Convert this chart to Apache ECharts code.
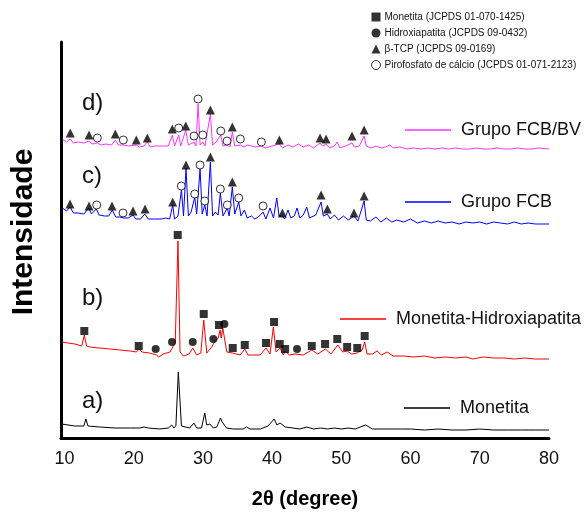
<!DOCTYPE html>
<html>
<head>
<meta charset="utf-8">
<script src="https://cdn.jsdelivr.net/npm/echarts@6/dist/echarts.min.js"></script>
<style>
  html, body { margin: 0; padding: 0; background: #fff; }
  #chart { width: 587px; height: 520px; }
</style>
</head>
<body>
<div id="chart"></div>
<script>
// 2θ (degree) vs stacked intensity (a.u.)
const xTicks = [10, 20, 30, 40, 50, 60, 70, 80];

const traceMonetita = [
  [9.6,14],[11.5,12],[12.8,12],[13.1,19],[13.4,12],[15.1,11],[17.3,10],[19.5,10],[20.9,10],[21.5,11],
  [22.1,10],[23.8,9],[25.0,10],[25.5,13],[25.8,10],[26.1,12],[26.45,66],[26.9,12],[27.1,10],[28.1,10],
  [28.7,15],[29.1,10],[29.8,10],[30.27,25],[30.55,13],[31.0,14],[31.5,10],[32.0,11],[32.55,20],[32.7,17],
  [32.9,19],[33.4,10],[34.4,9],[35.8,9],[36.3,11],[36.8,9],[38.3,9],[39.4,12],[40.3,19],[40.7,13],
  [41.15,15],[41.9,11],[43,10],[44,9],[45,11],[46,9],[47,10],[48,9],[49,10],[50,9],
  [51,10],[52,9],[53.5,13],[54.5,9],[56,9],[58.5,9],[60,9],[62,8],[64,9],[66,8],
  [68,8],[70,9],[72,8],[74,8],[76,8],[78,8],[80,8]
];

const traceMonHap = [
  [9.7,96],[10.5,95],[11.5,94],[12.5,92],[12.87,103],[13.2,92],[13.7,91],[15,90],[16.6,89],[18,88],
  [19.5,87],[20.4,86],[20.8,89],[21.2,86],[22.3,85],[23.3,83],[23.6,81],[24.3,84],[25.25,86],[25.64,91],
  [26.0,95],[26.4,197],[26.7,86],[27.17,82],[28.0,84],[28.53,90],[29.1,83],[29.7,85],[30.12,118],[30.56,85],
  [31.28,91],[31.6,95],[32.2,100],[32.48,108],[32.65,100],[32.87,110],[33.45,86],[34.31,85],[35.37,83],[36.05,89],
  [36.52,83],[38.26,83],[39.12,90],[39.7,84],[40.18,111],[40.57,86],[41.15,90],[41.62,83],[41.87,87],[42.5,83],
  [43.3,84],[44.5,83],[45.74,88],[46.6,84],[47.69,89],[48.5,84],[49.49,93],[50.2,86],[50.83,87],[51.5,84],
  [52.27,85],[53.0,88],[53.37,96],[53.72,84],[54.5,84],[55.16,87],[55.8,83],[56.61,86],[57.5,82],[59,82],
  [60.5,81],[62,82],[63.5,80],[65,81],[66.5,80],[68,81],[69,79],[70.5,81],[72,80],[73.5,80],
  [75,79],[76.5,80],[78,79],[80,79]
];

const traceFCB = [
  [9.7,230],[10.3,227],[10.8,231],[11.3,225],[12,225],[12.8,224],[13.5,230],[13.9,224],[14.6,229],[15.0,223],
  [15.8,222],[16.4,222],[16.9,228],[17.4,221],[18.0,221],[18.5,220],[19.2,220],[19.9,223],[20.3,219],[21.0,219],
  [21.6,224],[22.1,219],[23,219],[24,219],[24.6,220],[25.2,219],[25.64,233],[25.9,219],[26.4,222],[26.9,248],
  [27.2,222],[27.56,270],[27.9,222],[28.3,226],[28.82,241],[29.1,224],[29.59,269],[29.9,224],[30.27,233],[30.6,222],
  [31.08,276],[31.4,222],[31.8,226],[32.2,223],[32.52,245],[32.9,222],[33.53,230],[33.8,222],[34.25,251],[34.6,224],
  [35.18,236],[35.5,222],[36.0,228],[36.4,220],[37.0,222],[37.5,219],[38.0,221],[38.69,226],[39.1,219],[39.7,230],
  [40.2,220],[40.67,240],[41.0,222],[41.48,222],[41.8,219],[42.3,228],[42.7,220],[43.2,222],[43.6,230],[44.0,220],
  [44.5,223],[45.0,231],[45.4,220],[46.3,223],[47.07,236],[47.4,222],[47.98,224],[48.4,219],[49,223],[49.6,218],
  [50.3,222],[51,218],[51.83,222],[52.4,217],[53.29,237],[53.6,218],[54.2,217],[55,221],[55.7,216],[56.5,220],
  [57.3,216],[58,218],[59,216],[60,219],[61,215],[62,217],[63,215],[64,217],[65,215],[66,216],
  [67,214],[68,216],[69,215],[70,216],[71,214],[72,216],[73,215],[74,214],[75,216],[76,214],
  [77,215],[78,214],[79,214],[80,214]
];

const traceFCBBV = [
  [9.7,299],[10.3,296],[10.84,299],[11.3,295],[12,296],[12.8,295],[13.55,297],[14,294],[14.75,295],[15.3,293],
  [16,294],[16.8,293],[17.35,298],[17.8,293],[18.5,293],[19.3,292],[20.38,293],[20.8,291],[21.5,292],[21.97,296],
  [22.4,291],[23,292],[24,292],[25,292],[25.58,303],[25.9,292],[26.51,303],[26.8,292],[27.52,308],[27.9,293],
  [28.72,296],[29.0,292],[29.3,334],[29.6,293],[29.98,296],[30.3,292],[31.08,324],[31.4,293],[31.9,296],[32.58,303],
  [32.9,292],[33.49,293],[33.9,291],[34.25,306],[34.6,292],[35.41,293],[35.8,291],[36.5,293],[37.5,291],[38.45,292],
  [39,290],[40,292],[41.05,294],[41.5,290],[42.3,293],[43,291],[43.8,294],[44.5,291],[45.3,293],[46,290],
  [46.93,295],[47.3,292],[47.79,294],[48.3,290],[49,292],[49.4,296],[49.8,290],[50.6,292],[51.54,295],[51.9,291],
  [52.6,292],[53.29,302],[53.6,292],[54.3,290],[55,292],[55.8,290],[56.4,291],[57,293],[57.5,290],[58.5,291],
  [59.5,289],[60.5,290],[61.5,289],[62.5,290],[63.5,289],[64.5,290],[65.5,289],[66.5,290],[67.5,289],[68.5,289],
  [69.5,290],[70.5,289],[71.5,289],[72.5,290],[73.5,289],[74.5,289],[75.5,290],[76.5,289],[77.5,289],[78.5,290],
  [80,289]
];

// phase markers [2θ, height]
const monetitaMarks = [
  [12.87,107],[20.73,92],[26.36,203],[30.12,124],[32.33,113],[34.31,90],[36.05,93],[39.12,95],[40.28,116],
  [41.1,94],[41.87,89],[45.73,92],[47.65,94],[49.41,99],[50.84,91],[52.3,90],[53.37,102]
];
const hapMarks = [
  [23.18,89],[25.54,96],[28.53,96],[31.51,99],[33.1,114],[43.6,89]
];
const tcpMarks = [
  // c)
  [10.8,234],[13.55,232],[16.87,232],[19.9,227],[21.64,229],[25.64,236],[27.56,273],[31.08,281],[34.25,256],
  [41.48,225],[47.07,243],[47.98,229],[51.83,225],[53.29,242],
  // d)
  [10.84,305],[13.55,303],[17.35,304],[20.38,298],[21.97,300],[25.58,309],[27.52,312],[31.08,328],[34.25,311],
  [41.05,298],[46.93,300],[47.79,299],[51.54,302],[53.29,308]
];
const pyroMarks = [
  // c)
  [14.66,233],[18.46,225],[26.88,252],[28.82,244],[29.59,273],[30.27,237],[32.52,249],[33.53,233],[35.18,240],[38.69,232],
  // d)
  [14.75,300],[18.5,298],[26.51,310],[28.72,302],[29.3,339],[29.98,303],[32.58,307],[33.49,297],[35.41,299],[38.45,296]
];

const panelLabels = ['a)', 'b)', 'c)', 'd)'];
const panelLabelY = [401, 298, 176, 103];

const chart = echarts.init(document.getElementById('chart'));

const lineSeries = (name, data, color) => ({
  name, type: 'line', data, showSymbol: false, symbol: 'none',
  lineStyle: { color, width: 1 }, itemStyle: { color }, silent: true, z: 2
});
const markSeries = (name, data, symbol, size, filled) => ({
  name, type: 'scatter', data, symbol, symbolSize: size,
  itemStyle: filled ? { color: '#000' } : { color: '#fff', borderColor: '#000', borderWidth: 1 },
  silent: true, z: 3
});

const lineLegend = (name, left, top) => ({
  data: [name], left, top, padding: 0, icon: 'rect', itemWidth: 46, itemHeight: 1.5,
  selectedMode: false,
  textStyle: { fontFamily: 'Liberation Sans, Arial', fontSize: 18, color: '#111', padding: [0, 0, 0, 5] }
});

chart.setOption({
  animation: false,
  backgroundColor: '#fff',
  grid: { left: 61, right: 38, top: 42, bottom: 82, outerBoundsMode: 'none', containLabel: false },
  legend: [
    {
      data: [
        { name: 'Monetita (JCPDS 01-070-1425)', icon: 'rect' },
        { name: 'Hidroxiapatita (JCPDS 09-0432)', icon: 'circle' },
        { name: 'β-TCP (JCPDS 09-0169)', icon: 'triangle' },
        {
          name: 'Pirofosfato de cálcio (JCPDS 01-071-2123)', icon: 'circle',
          itemStyle: { color: '#fff', borderColor: '#000', borderWidth: 1 }
        }
      ],
      orient: 'vertical', left: 371, top: 12, padding: 0, itemGap: 6, itemWidth: 9, itemHeight: 9,
      selectedMode: false,
      textStyle: { fontFamily: 'Liberation Sans, Arial', fontSize: 10, color: '#111', padding: [0, 0, 0, -1] }
    },
    lineLegend('Grupo FCB/BV', 405, 121),
    lineLegend('Grupo FCB', 405, 193),
    lineLegend('Monetita-Hidroxiapatita', 340, 310),
    lineLegend('Monetita', 404, 399)
  ],
  xAxis: {
    type: 'value', min: 9.5, max: 80, interval: 0.5,
    name: '2θ (degree)', nameLocation: 'middle', nameGap: 51,
    nameTextStyle: { fontFamily: 'Liberation Sans, Arial', fontSize: 20, fontWeight: 'bold', color: '#000' },
    axisLine: { lineStyle: { color: '#000', width: 3 } },
    axisTick: { show: false },
    splitLine: { show: false },
    axisLabel: {
      margin: 12, color: '#111', fontFamily: 'Liberation Sans, Arial', fontSize: 18,
      formatter: v => (xTicks.includes(v) ? String(v) : '')
    }
  },
  yAxis: {
    type: 'value', min: 0, max: 396,
    name: 'Intensidade', nameLocation: 'middle', nameGap: 22,
    nameTextStyle: {
      fontFamily: 'Liberation Sans, Arial', fontSize: 30, fontWeight: 'bold', color: '#000',
      padding: [0, 0, 0, 16]
    },
    axisLine: { show: true, lineStyle: { color: '#000', width: 3 } },
    axisTick: { show: false },
    axisLabel: { show: false },
    splitLine: { show: false }
  },
  graphic: panelLabels.map((t, i) => ({
    type: 'text', left: 82, top: panelLabelY[i] - 12,
    style: { text: t, font: '24px "Liberation Sans", Arial', fill: '#111' }
  })),
  series: [
    lineSeries('Monetita', traceMonetita, '#000'),
    lineSeries('Monetita-Hidroxiapatita', traceMonHap, '#ff0000'),
    lineSeries('Grupo FCB', traceFCB, '#0000ff'),
    lineSeries('Grupo FCB/BV', traceFCBBV, '#ff33ff'),
    markSeries('Monetita (JCPDS 01-070-1425)', monetitaMarks, 'rect', 8, true),
    markSeries('Hidroxiapatita (JCPDS 09-0432)', hapMarks, 'circle', 8, true),
    markSeries('β-TCP (JCPDS 09-0169)', tcpMarks, 'triangle', 9, true),
    markSeries('Pirofosfato de cálcio (JCPDS 01-071-2123)', pyroMarks, 'circle', 8, false)
  ]
});
</script>
</body>
</html>
